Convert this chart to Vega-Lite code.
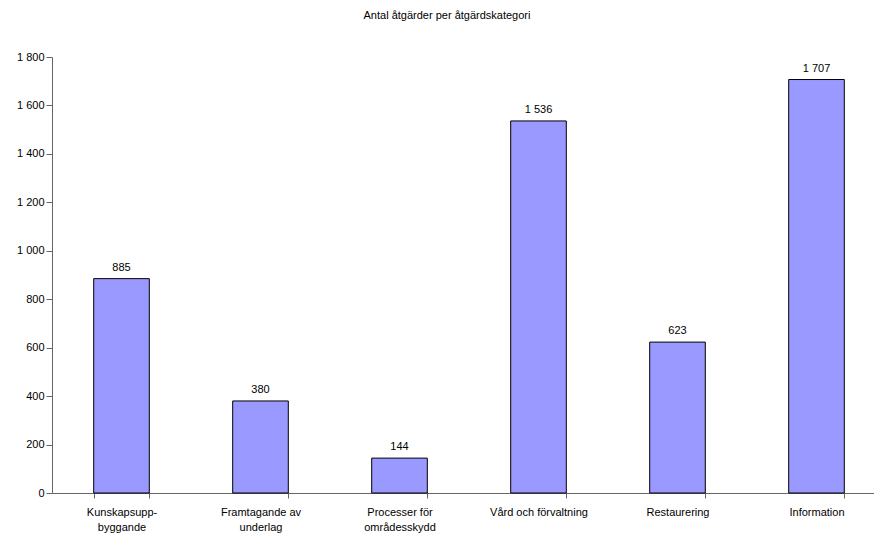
{
  "$schema": "https://vega.github.io/schema/vega-lite/v6.json",
  "autosize": "none",
  "width": 822,
  "height": 436,
  "padding": {"left": 52, "top": 57, "right": 0, "bottom": 40},
  "background": "white",
  "config": {
    "view": {"stroke": null},
    "font": "Liberation Sans",
    "locale": {"number": {"decimal": ",", "thousands": " ", "grouping": [3], "currency": ["", " kr"]}}
  },
  "title": {
    "text": "Antal åtgärder per åtgärdskategori",
    "fontSize": 11,
    "fontWeight": "normal",
    "font": "Liberation Sans",
    "color": "black",
    "anchor": "middle",
    "dx": -16,
    "offset": 30
  },
  "data": {
    "values": [
      {"kategori": "Kunskapsupp-|byggande", "antal": 885},
      {"kategori": "Framtagande av|underlag", "antal": 380},
      {"kategori": "Processer för|områdesskydd", "antal": 144},
      {"kategori": "Vård och förvaltning", "antal": 1536},
      {"kategori": "Restaurering", "antal": 623},
      {"kategori": "Information", "antal": 1707}
    ]
  },
  "encoding": {
    "x": {
      "field": "kategori",
      "type": "nominal",
      "sort": null,
      "scale": {"range": [0, 834], "paddingInner": 0.6, "paddingOuter": 0.3},
      "axis": {
        "title": null,
        "labelAngle": 0,
        "labelExpr": "split(datum.label, '|')",
        "labelFontSize": 11,
        "labelColor": "black",
        "labelPadding": 8,
        "labelLineHeight": 15,
        "tickBand": "extent",
        "tickSize": 5,
        "tickColor": "#666",
        "domainColor": "#666",
        "labelLimit": 200
      }
    },
    "y": {
      "field": "antal",
      "type": "quantitative",
      "scale": {"domain": [0, 1800]},
      "axis": {
        "title": null,
        "values": [0, 200, 400, 600, 800, 1000, 1200, 1400, 1600, 1800],
        "format": ",d",
        "grid": false,
        "labelFontSize": 11,
        "labelColor": "black",
        "labelPadding": 2,
        "tickSize": 6,
        "tickColor": "#666",
        "domainColor": "#666"
      }
    }
  },
  "layer": [
    {
      "mark": {"type": "bar", "color": "#9999FF", "stroke": "black", "strokeWidth": 1}
    },
    {
      "mark": {"type": "text", "dy": -6, "fontSize": 11, "color": "black", "baseline": "bottom"},
      "encoding": {"text": {"field": "antal", "type": "quantitative", "format": ",d"}}
    }
  ]
}
